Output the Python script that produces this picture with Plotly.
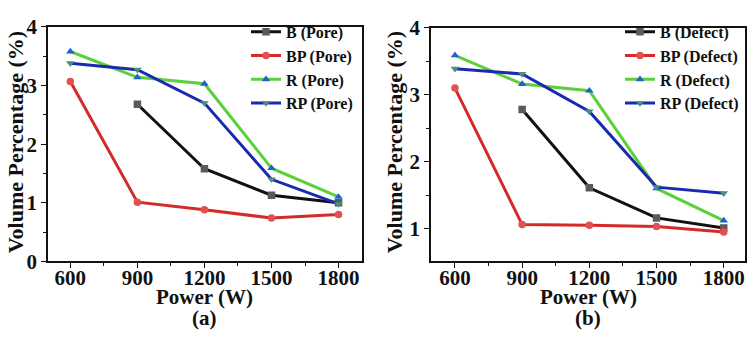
import plotly.graph_objects as go

# Laser power settings (W)
power = [600, 900, 1200, 1500, 1800]

# (a) pore volume percentage (%)
b_pore = [None, 2.68, 1.58, 1.13, 1.00]
bp_pore = [3.07, 1.01, 0.88, 0.74, 0.80]
r_pore = [3.58, 3.14, 3.03, 1.59, 1.10]
rp_pore = [3.38, 3.27, 2.70, 1.40, 0.98]

# (b) defect volume percentage (%)
b_defect = [None, 2.78, 1.61, 1.16, 1.01]
bp_defect = [3.10, 1.06, 1.05, 1.03, 0.95]
r_defect = [3.59, 3.16, 3.06, 1.60, 1.12]
rp_defect = [3.39, 3.31, 2.75, 1.62, 1.53]

x_ticks = [600, 900, 1200, 1500, 1800]

FONT = "Times New Roman, Liberation Serif, serif"
W, H = 756, 346

# series styles: (name prefix, line colour, marker colour, marker symbol)
styles = [
    ("B", "#111111", "#5a5a5a", "square"),
    ("BP", "#d42a2a", "#e25050", "circle"),
    ("R", "#5cd03a", "#2060d0", "triangle-up"),
    ("RP", "#1a2ab0", "#4a8f7a", "triangle-down"),
]

fig = go.Figure()

panels = [
    ("x", "y", "legend", "Pore", [b_pore, bp_pore, r_pore, rp_pore]),
    ("x2", "y2", "legend2", "Defect", [b_defect, bp_defect, r_defect, rp_defect]),
]

for xa, ya, leg, kind, series in panels:
    for (prefix, lc, mc, sym), vals in zip(styles, series):
        fig.add_trace(go.Scatter(
            x=power, y=vals, xaxis=xa, yaxis=ya, legend=leg,
            name=f"<b>{prefix} ({kind})</b>", mode="lines+markers",
            connectgaps=False,
            line=dict(color=lc, width=3),
            marker=dict(color=mc, symbol=sym, size=7.5, line=dict(width=0)),
        ))


def px_x(p):
    return p / W


def px_y(p):
    return 1 - p / H


axis_common = dict(
    showline=True, linecolor="#111", linewidth=1.5, mirror=True,
    ticks="outside", ticklen=5, tickwidth=1.3, tickcolor="#111",
    showgrid=False, zeroline=False,
    tickfont=dict(family=FONT, size=21, color="#111", weight="bold"),
)
minor_x = dict(tickvals=[750, 1050, 1350, 1650], ticks="outside",
               ticklen=3, tickwidth=1.2, tickcolor="#111")

legend_common = dict(
    xanchor="left", yanchor="top", bgcolor="rgba(0,0,0,0)", borderwidth=0,
    font=dict(family=FONT, size=16, color="#111"),
    tracegroupgap=0, itemwidth=30,
)

fig.update_layout(
    width=W, height=H,
    margin=dict(l=0, r=0, t=0, b=0),
    paper_bgcolor="white", plot_bgcolor="white",
    font=dict(family=FONT, color="#111"),
    xaxis=dict(domain=[px_x(48), px_x(362)], range=[500, 1905],
               tickvals=x_ticks, minor=minor_x, anchor="y",
               ticklabelstandoff=-8, **axis_common),
    yaxis=dict(domain=[px_y(268), px_y(16)], range=[0, 4], tickvals=[0, 1, 2, 3, 4],
               minor=dict(tickvals=[0.5, 1.5, 2.5, 3.5], ticks="outside",
                          ticklen=3, tickwidth=1.2, tickcolor="#111"),
               anchor="x", **axis_common),
    xaxis2=dict(domain=[px_x(431), px_x(745)], range=[493, 1895],
                tickvals=x_ticks, minor=minor_x, anchor="y2",
                ticklabelstandoff=-8, **axis_common),
    yaxis2=dict(domain=[px_y(268), px_y(17)], range=[0.51, 4], tickvals=[1, 2, 3, 4],
                minor=dict(tickvals=[1.5, 2.5, 3.5], ticks="outside",
                           ticklen=3, tickwidth=1.2, tickcolor="#111"),
                anchor="x2", **axis_common),
    legend=dict(x=px_x(246), y=px_y(3), **legend_common),
    legend2=dict(x=px_x(620), y=px_y(3), **legend_common),
    showlegend=True,
)

ytitle_font = dict(family=FONT, size=22, color="#111")
xtitle_font = dict(family=FONT, size=21, color="#111")
annotations = [
    # y axis titles
    dict(text="<b>Volume Percentage (%)</b>", x=px_x(15), y=px_y(140),
         textangle=-90, font=ytitle_font),
    dict(text="<b>Volume Percentage (%)</b>", x=px_x(394), y=px_y(140),
         textangle=-90, font=ytitle_font),
    # x axis titles
    dict(text="<b>Power (W)</b>", x=px_x(204), y=px_y(306), font=xtitle_font),
    dict(text="<b>Power (W)</b>", x=px_x(588), y=px_y(306), font=xtitle_font),
    # panel labels
    dict(text="<b>(a)</b>", x=px_x(204), y=px_y(329), font=xtitle_font),
    dict(text="<b>(b)</b>", x=px_x(588), y=px_y(329), font=xtitle_font),
]
for a in annotations:
    a.update(xref="paper", yref="paper", showarrow=False,
             xanchor="center", yanchor="middle")
fig.update_layout(annotations=annotations)

fig.write_html("out.html")
